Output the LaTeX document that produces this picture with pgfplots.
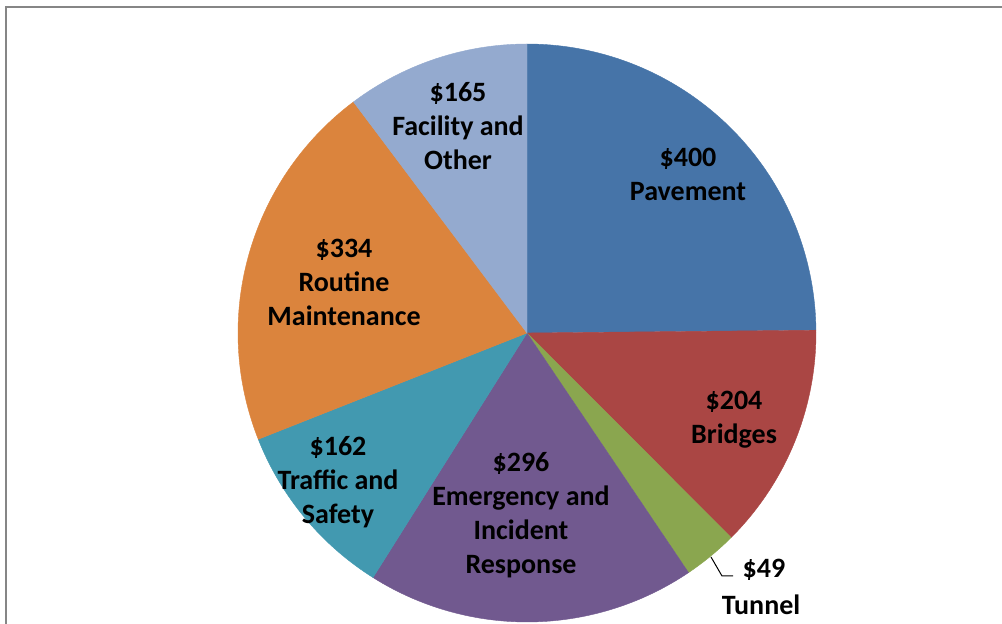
\documentclass[border=0pt]{standalone}
\usepackage{fontspec}
\setmainfont{Carlito}
\usepackage{pgfplots}
\usepackage{pgfplotstable}
\pgfplotsset{compat=1.18}

\definecolor{cPav}{HTML}{4674A8}
\definecolor{cBri}{HTML}{AA4644}
\definecolor{cTun}{HTML}{8AA64F}
\definecolor{cEme}{HTML}{71598F}
\definecolor{cTra}{HTML}{4299B0}
\definecolor{cRou}{HTML}{DB843D}
\definecolor{cFac}{HTML}{94AACF}
\definecolor{frame}{HTML}{868686}

\tikzset{lbl/.style={font=\fontsize{14}{17}\selectfont\bfseries, align=center, text=black, inner sep=0pt}}

\pgfplotstableread[col sep=comma]{
name,value
Pavement,400
Bridges,204
Tunnel,49
Emergency and Incident Response,296
Traffic and Safety,162
Routine Maintenance,334
Facility and Other,165
}\piedata

\begin{document}
\begin{tikzpicture}
\pgfplotstablegetelem{0}{value}\of\piedata \let\vA\pgfplotsretval
\pgfplotstablegetelem{1}{value}\of\piedata \let\vB\pgfplotsretval
\pgfplotstablegetelem{2}{value}\of\piedata \let\vC\pgfplotsretval
\pgfplotstablegetelem{3}{value}\of\piedata \let\vD\pgfplotsretval
\pgfplotstablegetelem{4}{value}\of\piedata \let\vE\pgfplotsretval
\pgfplotstablegetelem{5}{value}\of\piedata \let\vF\pgfplotsretval
\pgfplotstablegetelem{6}{value}\of\piedata \let\vG\pgfplotsretval
\pgfmathsetmacro\tot{\vA+\vB+\vC+\vD+\vE+\vF+\vG}
\pgfmathsetmacro\k{360/\tot}
\pgfmathsetmacro\tA{90}
\pgfmathsetmacro\tB{\tA-\k*\vA}
\pgfmathsetmacro\tC{\tB-\k*\vB}
\pgfmathsetmacro\tD{\tC-\k*\vC}
\pgfmathsetmacro\tE{\tD-\k*\vD}
\pgfmathsetmacro\tF{\tE-\k*\vE}
\pgfmathsetmacro\tG{\tF-\k*\vF}
\pgfmathsetmacro\tH{-270}
\begin{axis}[
  scale only axis, width=501pt, height=312pt,
  xmin=0, xmax=1002, ymin=0, ymax=624, y dir=reverse,
  hide axis,
  every axis plot/.append style={line width=0.2pt, samples=90, variable=\t},
]
\path (rel axis cs:0,0) rectangle (rel axis cs:1,1);
\addplot[fill=cPav, draw=cPav, domain=\tB:\tA] ({527+289*cos(\t)},{333-289*sin(\t)}) -- (axis cs:527,333) -- cycle;
\addplot[fill=cBri, draw=cBri, domain=\tC:\tB] ({527+289*cos(\t)},{333-289*sin(\t)}) -- (axis cs:527,333) -- cycle;
\addplot[fill=cTun, draw=cTun, domain=\tD:\tC] ({527+289*cos(\t)},{333-289*sin(\t)}) -- (axis cs:527,333) -- cycle;
\addplot[fill=cEme, draw=cEme, domain=\tE:\tD] ({527+289*cos(\t)},{333-289*sin(\t)}) -- (axis cs:527,333) -- cycle;
\addplot[fill=cTra, draw=cTra, domain=\tF:\tE] ({527+289*cos(\t)},{333-289*sin(\t)}) -- (axis cs:527,333) -- cycle;
\addplot[fill=cRou, draw=cRou, domain=\tG:\tF] ({527+289*cos(\t)},{333-289*sin(\t)}) -- (axis cs:527,333) -- cycle;
\addplot[fill=cFac, draw=cFac, domain=\tH:\tG] ({527+289*cos(\t)},{333-289*sin(\t)}) -- (axis cs:527,333) -- cycle;

\draw[frame, line width=1pt] (axis cs:6,624) -- (axis cs:6,7) -- (axis cs:1002,7);
\draw[black, line width=0.5pt] (axis cs:711,557) -- (axis cs:722,576) -- (axis cs:733,576);

\node[lbl] at (axis cs:688,174) {\$400\\Pavement};
\node[lbl] at (axis cs:734,420) {\$204\\Bridges};
\node[lbl] at (axis cs:764,570) {\$49};
\node[lbl] at (axis cs:761,605) {Tunnel};
\node[lbl] at (axis cs:521,515) {\$296\\Emergency and\\Incident\\Response};
\node[lbl] at (axis cs:338,482) {\$162\\Traffic and\\Safety};
\node[lbl] at (axis cs:344,282) {\$334\\Routine\\Maintenance};
\node[lbl] at (axis cs:458,126) {\$165\\Facility and\\Other};
\end{axis}
\end{tikzpicture}
\end{document}
